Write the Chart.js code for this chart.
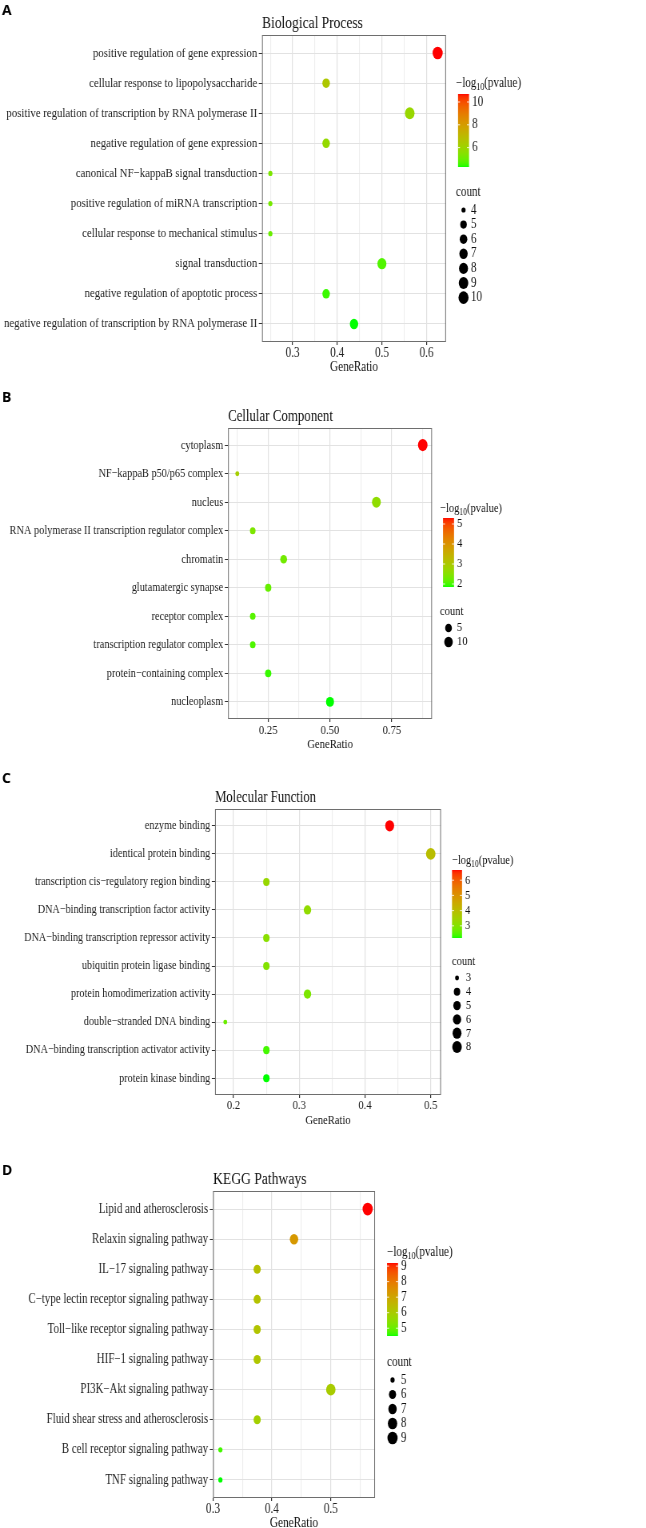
<!DOCTYPE html>
<html>
<head>
<meta charset="utf-8">
<script src="https://cdn.jsdelivr.net/npm/chart.js@4.4.1/dist/chart.umd.min.js"></script>
<style>
  html, body { margin: 0; padding: 0; background: #fff; overflow: hidden; }
  #wrap { position: relative; width: 646px; height: 1528px; overflow: hidden; }
  canvas { position: absolute; left: 0; }
</style>
</head>
<body>
<div id="wrap">
  <canvas id="chartA"></canvas>
  <canvas id="chartB"></canvas>
  <canvas id="chartC"></canvas>
  <canvas id="chartD"></canvas>
</div>
<script>
// ---- data: A Biological Process ----
var termsA = ['positive regulation of gene expression', 'cellular response to lipopolysaccharide',
  'positive regulation of transcription by RNA polymerase II', 'negative regulation of gene expression',
  'canonical NF−kappaB signal transduction', 'positive regulation of miRNA transcription',
  'cellular response to mechanical stimulus', 'signal transduction',
  'negative regulation of apoptotic process', 'negative regulation of transcription by RNA polymerase II'];
var ratioA = [0.625, 0.375, 0.5625, 0.375, 0.25, 0.25, 0.25, 0.5, 0.375, 0.4375];
var countA = [10, 6, 9, 6, 4, 4, 4, 8, 6, 7];
var logpA = [10.7, 6.5, 5.9, 5.8, 5.3, 5.2, 5.0, 4.7, 4.5, 4.3];
var xTicksA = [0.3, 0.4, 0.5, 0.6];
var xLabelsA = ['0.3', '0.4', '0.5', '0.6'];
var colorBreaksA = [6, 8, 10];
var sizeBreaksA = [4, 5, 6, 7, 8, 9, 10];

// ---- data: B Cellular Component ----
var termsB = ['cytoplasm', 'NF−kappaB p50/p65 complex', 'nucleus',
  'RNA polymerase II transcription regulator complex', 'chromatin', 'glutamatergic synapse',
  'receptor complex', 'transcription regulator complex', 'protein−containing complex', 'nucleoplasm'];
var ratioB = [0.875, 0.125, 0.6875, 0.1875, 0.3125, 0.25, 0.1875, 0.1875, 0.25, 0.5];
var countB = [14, 2, 11, 3, 5, 4, 3, 3, 4, 8];
var logpB = [5.3, 2.9, 2.6, 2.4, 2.3, 2.2, 2.1, 2.05, 1.95, 1.85];
var xTicksB = [0.25, 0.5, 0.75];
var xLabelsB = ['0.25', '0.50', '0.75'];
var colorBreaksB = [2, 3, 4, 5];
var sizeBreaksB = [5, 10];

// ---- data: C Molecular Function ----
var termsC = ['enzyme binding', 'identical protein binding', 'transcription cis−regulatory region binding',
  'DNA−binding transcription factor activity', 'DNA−binding transcription repressor activity',
  'ubiquitin protein ligase binding', 'protein homodimerization activity', 'double−stranded DNA binding',
  'DNA−binding transcription activator activity', 'protein kinase binding'];
var ratioC = [0.4375, 0.5, 0.25, 0.3125, 0.25, 0.25, 0.3125, 0.1875, 0.25, 0.25];
var countC = [7, 8, 4, 5, 4, 4, 5, 3, 4, 4];
var logpC = [6.67, 4.0, 3.3, 3.2, 3.1, 3.0, 2.9, 2.7, 2.4, 2.2];
var xTicksC = [0.2, 0.3, 0.4, 0.5];
var xLabelsC = ['0.2', '0.3', '0.4', '0.5'];
var colorBreaksC = [3, 4, 5, 6];
var sizeBreaksC = [3, 4, 5, 6, 7, 8];

// ---- data: D KEGG Pathways ----
var termsD = ['Lipid and atherosclerosis', 'Relaxin signaling pathway', 'IL−17 signaling pathway',
  'C−type lectin receptor signaling pathway', 'Toll−like receptor signaling pathway',
  'HIF−1 signaling pathway', 'PI3K−Akt signaling pathway', 'Fluid shear stress and atherosclerosis',
  'B cell receptor signaling pathway', 'TNF signaling pathway'];
var ratioD = [0.5625, 0.4375, 0.375, 0.375, 0.375, 0.375, 0.5, 0.375, 0.3125, 0.3125];
var countD = [9, 7, 6, 6, 6, 6, 8, 6, 5, 5];
var logpD = [9.2, 7.3, 6.3, 6.25, 6.2, 6.15, 6.0, 5.9, 4.7, 4.5];
var xTicksD = [0.3, 0.4, 0.5];
var xLabelsD = ['0.3', '0.4', '0.5'];
var colorBreaksD = [5, 6, 7, 8, 9];
var sizeBreaksD = [5, 6, 7, 8, 9];

var SERIF = "'Liberation Serif', 'Times New Roman', serif";
// the original figure is squeezed sideways: draw wider, show at 646px
var CW = 808, SX = CW / 646;

// green -> red, mixed in CIELAB like ggplot's gradient
function toLin(c) { c /= 255; return c <= 0.04045 ? c / 12.92 : Math.pow((c + 0.055) / 1.055, 2.4); }
function toSrgb(c) { c = c <= 0.0031308 ? 12.92 * c : 1.055 * Math.pow(c, 1 / 2.4) - 0.055; return Math.round(Math.max(0, Math.min(1, c)) * 255); }
function rgb2lab(rgb) {
  var r = toLin(rgb[0]), g = toLin(rgb[1]), b = toLin(rgb[2]);
  var x = (0.4124 * r + 0.3576 * g + 0.1805 * b) / 0.95047;
  var y = (0.2126 * r + 0.7152 * g + 0.0722 * b);
  var z = (0.0193 * r + 0.1192 * g + 0.9505 * b) / 1.08883;
  var f = function(t) { return t > 0.008856 ? Math.cbrt(t) : 7.787 * t + 16 / 116; };
  return [116 * f(y) - 16, 500 * (f(x) - f(y)), 200 * (f(y) - f(z))];
}
function lab2rgb(lab) {
  var fy = (lab[0] + 16) / 116, fx = fy + lab[1] / 500, fz = fy - lab[2] / 200;
  var inv = function(t) { return t * t * t > 0.008856 ? t * t * t : (t - 16 / 116) / 7.787; };
  var x = inv(fx) * 0.95047, y = inv(fy), z = inv(fz) * 1.08883;
  var r = 3.2406 * x - 1.5372 * y - 0.4986 * z;
  var g = -0.9689 * x + 1.8758 * y + 0.0415 * z;
  var b = 0.0557 * x - 0.2040 * y + 1.0570 * z;
  return 'rgb(' + toSrgb(r) + ',' + toSrgb(g) + ',' + toSrgb(b) + ')';
}
var LOW = rgb2lab([0, 255, 0]), HIGH = rgb2lab([255, 0, 0]);
function gradColor(t) {
  return lab2rgb([0, 1, 2].map(function(k) { return LOW[k] + (HIGH[k] - LOW[k]) * t; }));
}

function isIn(v, list) {
  return list.some(function(m) { return Math.abs(m - v) < 1e-9; });
}

// legends, panel border, letter and title
var decor = {
  id: 'decor',
  afterDraw: function(chart, args, o) {
    var ctx = chart.ctx, a = chart.chartArea, lg = o.legend, fs = o.fs;
    ctx.save();
    ctx.strokeStyle = '#6e6e6e';
    ctx.lineWidth = 1;
    ctx.strokeRect(a.left + 0.5, a.top + 0.5, a.right - a.left - 1, a.bottom - a.top - 1);

    // panel letter is not squeezed
    ctx.save();
    ctx.scale(SX, 1);
    ctx.fillStyle = '#000';
    ctx.textBaseline = 'alphabetic';
    ctx.textAlign = 'left';
    ctx.font = "bold 14px 'Open Sans', 'Liberation Sans', sans-serif";
    ctx.fillText(o.letter, 2, o.letterY);
    ctx.restore();

    ctx.textBaseline = 'alphabetic';
    ctx.font = (16.9 * fs) + 'px ' + SERIF;
    ctx.fillStyle = '#111';
    ctx.fillText(o.title, a.left, a.top - 7.5);

    // colour bar title: -log10(pvalue)
    var x = lg.titleX * SX, y = lg.titleY + 4.5;
    ctx.font = (13.8 * fs) + 'px ' + SERIF;
    ctx.fillText('−log', x, y);
    x += ctx.measureText('−log').width;
    ctx.font = (10 * fs) + 'px ' + SERIF;
    ctx.fillText('10', x, y + 3);
    x += ctx.measureText('10').width;
    ctx.font = (13.8 * fs) + 'px ' + SERIF;
    ctx.fillText('(pvalue)', x, y);

    // colour bar
    var bx = lg.barX * SX, bw = lg.barW * SX;
    var lo = Math.min.apply(null, o.logp), hi = Math.max.apply(null, o.logp);
    for (var i = 0; i < lg.barH; i++) {
      ctx.fillStyle = gradColor(1 - (i + 0.5) / lg.barH);
      ctx.fillRect(bx, lg.barTop + i, bw, 1);
    }
    ctx.strokeStyle = 'rgba(255,255,255,0.9)';
    ctx.textBaseline = 'middle';
    o.colorBreaks.forEach(function(v) {
      var by = lg.barTop + lg.barH - (v - lo) / (hi - lo) * lg.barH;
      ctx.beginPath();
      ctx.moveTo(bx, by); ctx.lineTo(bx + 2.5, by);
      ctx.moveTo(bx + bw - 2.5, by); ctx.lineTo(bx + bw, by);
      ctx.stroke();
      ctx.fillStyle = '#111';
      ctx.fillText(String(v), bx + bw + 4, by);
    });

    // size legend
    ctx.fillText('count', lg.titleX * SX, lg.countY);
    o.sizeBreaks.forEach(function(v, k) {
      var cy = lg.itemY0 + k * lg.itemDy;
      ctx.fillStyle = '#000';
      ctx.beginPath();
      ctx.arc(lg.dotX * SX, cy, o.sizeFn(v), 0, Math.PI * 2);
      ctx.fill();
      ctx.fillStyle = '#111';
      ctx.fillText(String(v), lg.labelX * SX, cy);
    });
    ctx.restore();
  }
};

function makeChart(id, terms, ratio, count, logp, xTicks, xLabels, colorBreaks, sizeBreaks, lay) {
  var fs = lay.fs;
  var axisH = 25.5 + 8.4 * fs;
  var cv = document.getElementById(id);
  var h = Math.ceil(lay.plotBottom + axisH);
  cv.width = CW;
  cv.height = h;
  cv.style.width = '646px';
  cv.style.height = h + 'px';
  cv.style.top = lay.top + 'px';

  var cMin = Math.min.apply(null, count), cMax = Math.max.apply(null, count);
  var pMin = Math.min.apply(null, logp), pMax = Math.max.apply(null, logp);
  var sizeFn = function(c) { return fs * (2.6 + 3.7 * Math.sqrt((c - cMin) / (cMax - cMin))); };

  var rMin = Math.min.apply(null, ratio), rMax = Math.max.apply(null, ratio);
  var pad = (rMax - rMin) * 0.05;
  var step = xTicks[1] - xTicks[0];
  var minor = [];
  for (var i = -1; i < xTicks.length; i++) {
    var m = (i < 0 ? xTicks[0] - step : xTicks[i]) + step / 2;
    if (m > rMin - pad && m < rMax + pad) minor.push(m);
  }
  var allTicks = xTicks.concat(minor).sort(function(p, q) { return p - q; });

  return new Chart(cv, {
    type: 'bubble',
    data: {
      datasets: [{
        data: terms.map(function(t, i) { return { x: ratio[i], y: i, r: sizeFn(count[i]) }; }),
        backgroundColor: logp.map(function(v) { return gradColor((v - pMin) / (pMax - pMin)); }),
        borderWidth: 0,
        hoverRadius: 0
      }]
    },
    options: {
      responsive: false,
      animation: false,
      devicePixelRatio: 1,
      events: [],
      layout: { padding: { left: 0, top: lay.plotTop, right: CW - lay.right * SX, bottom: h - lay.plotBottom - axisH } },
      plugins: {
        legend: { display: false },
        tooltip: { enabled: false },
        decor: {
          letter: lay.letter, letterY: lay.letterY, title: lay.title, legend: lay.legend, fs: fs,
          logp: logp, colorBreaks: colorBreaks, sizeBreaks: sizeBreaks, sizeFn: sizeFn
        }
      },
      scales: {
        x: {
          type: 'linear',
          min: rMin - pad,
          max: rMax + pad,
          afterBuildTicks: function(s) { s.ticks = allTicks.map(function(v) { return { value: v }; }); },
          afterFit: function(s) { s.height = axisH; },
          border: { display: false },
          grid: {
            color: function(c) { return isIn(c.tick.value, xTicks) ? '#e2e2e2' : '#eeeeee'; },
            lineWidth: 1.2,
            tickLength: 3,
            tickWidth: 1.2,
            tickColor: function(c) { return isIn(c.tick.value, xTicks) ? '#333' : 'rgba(0,0,0,0)'; }
          },
          ticks: {
            autoSkip: false, maxRotation: 0, padding: 0, color: '#222', font: { family: SERIF, size: 14 * fs },
            callback: function(v) {
              for (var k = 0; k < xTicks.length; k++) if (Math.abs(xTicks[k] - v) < 1e-9) return xLabels[k];
              return '';
            }
          },
          title: { display: true, text: 'GeneRatio', color: '#111', font: { family: SERIF, size: 14 * fs }, padding: 0 }
        },
        y: {
          type: 'linear',
          reverse: true,
          min: -0.6,
          max: terms.length - 0.4,
          afterBuildTicks: function(s) { s.ticks = terms.map(function(t, i) { return { value: i }; }); },
          afterFit: function(s) { s.width = lay.left * SX; },
          border: { display: false },
          grid: { color: '#e2e2e2', lineWidth: 1, tickLength: 4, tickColor: '#333' },
          ticks: {
            autoSkip: false, padding: 2, color: '#222', font: { family: SERIF, size: 13.5 * fs },
            callback: function(v) { return terms[v]; }
          }
        }
      }
    },
    plugins: [decor]
  });
}

makeChart('chartA', termsA, ratioA, countA, logpA, xTicksA, xLabelsA, colorBreaksA, sizeBreaksA, {
  top: 0, plotTop: 35, plotBottom: 342, left: 262, right: 446, fs: 1,
  letter: 'A', letterY: 15, title: 'Biological Process',
  legend: { titleX: 456, titleY: 82, barX: 458, barTop: 94, barH: 73, barW: 11,
    countY: 192, itemY0: 210, itemDy: 14.6, dotX: 463.5, labelX: 471 }
});
makeChart('chartB', termsB, ratioB, countB, logpB, xTicksB, xLabelsB, colorBreaksB, sizeBreaksB, {
  top: 380, plotTop: 48, plotBottom: 339, left: 228, right: 432, fs: 0.955,
  letter: 'B', letterY: 22, title: 'Cellular Component',
  legend: { titleX: 440, titleY: 127, barX: 443, barTop: 138, barH: 69, barW: 11,
    countY: 232, itemY0: 248, itemDy: 14, dotX: 448.5, labelX: 457 }
});
makeChart('chartC', termsC, ratioC, countC, logpC, xTicksC, xLabelsC, colorBreaksC, sizeBreaksC, {
  top: 760, plotTop: 49, plotBottom: 335, left: 215, right: 441, fs: 0.945,
  letter: 'C', letterY: 23, title: 'Molecular Function',
  legend: { titleX: 452, titleY: 99, barX: 452, barTop: 110, barH: 68, barW: 10,
    countY: 202, itemY0: 218, itemDy: 13.8, dotX: 457, labelX: 466 }
});
makeChart('chartD', termsD, ratioD, countD, logpD, xTicksD, xLabelsD, colorBreaksD, sizeBreaksD, {
  top: 1130, plotTop: 61, plotBottom: 368, left: 213, right: 375, fs: 1.01,
  letter: 'D', letterY: 45, title: 'KEGG Pathways',
  legend: { titleX: 387, titleY: 121, barX: 387, barTop: 133, barH: 73, barW: 11,
    countY: 232, itemY0: 250, itemDy: 14.5, dotX: 392.5, labelX: 401 }
});
</script>
</body>
</html>
